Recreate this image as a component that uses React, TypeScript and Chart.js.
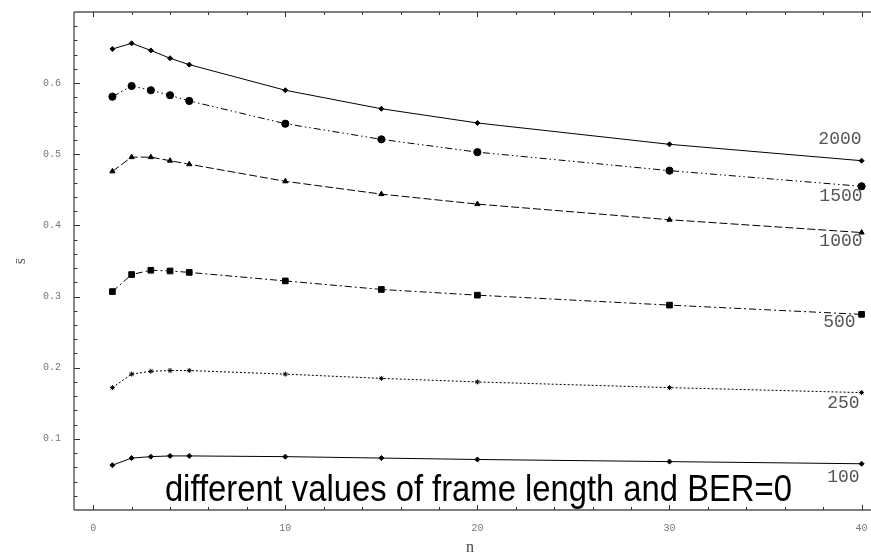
import React, { useEffect, useRef } from 'react';
import { Chart, registerables } from 'chart.js';

Chart.register(...registerables);

// ---- data ----
const nValues = [1, 2, 3, 4, 5, 10, 15, 20, 30, 40];
const frameLengths = ['2000', '1500', '1000', '500', '250', '100'];
const s2000 = [0.648, 0.656, 0.646, 0.635, 0.626, 0.590, 0.564, 0.544, 0.514, 0.491];
const s1500 = [0.581, 0.596, 0.590, 0.583, 0.575, 0.543, 0.521, 0.503, 0.477, 0.455];
const s1000 = [0.476, 0.496, 0.496, 0.491, 0.486, 0.462, 0.444, 0.430, 0.408, 0.390];
const s500 = [0.307, 0.331, 0.337, 0.336, 0.334, 0.322, 0.310, 0.302, 0.288, 0.275];
const s250 = [0.172, 0.191, 0.195, 0.196, 0.196, 0.191, 0.185, 0.180, 0.172, 0.165];
const s100 = [0.063, 0.073, 0.075, 0.076, 0.076, 0.075, 0.073, 0.071, 0.068, 0.065];
const seriesValues = [s2000, s1500, s1000, s500, s250, s100];
const xTickValues = [0, 10, 20, 30, 40];
const yTickValues = [0.1, 0.2, 0.3, 0.4, 0.5, 0.6];
const xLabel = 'n';
const yLabel = 's\u0304';
const noteText = 'different values of frame length and BER=0';

// ---- styles ----
const seriesStyles = [
  { dash: [], point: 'rectRot', r: 2.5, dx: 0, dy: -21 },
  { dash: [7, 3, 1.5, 3, 1.5, 3], point: 'circle', r: 3.6, dx: 1, dy: 10 },
  { dash: [8, 3], point: 'triangle', r: 3, dx: 1, dy: 9 },
  { dash: [7, 3, 2, 3], point: 'rect', r: 4, dx: -6, dy: 8 },
  { dash: [2, 2], point: 'star', r: 2.5, dx: -2, dy: 11 },
  { dash: [], point: 'rectRot', r: 2.5, dx: -2, dy: 13 },
];

const framePlugin = {
  id: 'frameTicks',
  afterDraw(chart: any) {
    const { ctx, chartArea, scales } = chart;
    const xs = scales.x;
    const ys = scales.y;
    const { left, top, bottom } = chartArea;
    const right = chart.width;
    ctx.save();
    ctx.strokeStyle = '#555';
    ctx.lineWidth = 1.4;
    ctx.beginPath();
    ctx.moveTo(left, top);
    ctx.lineTo(left, bottom);
    ctx.moveTo(left, top);
    ctx.lineTo(right, top);
    ctx.moveTo(left, bottom);
    ctx.lineTo(right, bottom);
    ctx.stroke();
    ctx.lineWidth = 1;
    ctx.strokeStyle = '#333';
    ctx.beginPath();
    for (let v = 0; v <= 40; v += 2) {
      const px = Math.round(xs.getPixelForValue(v)) + 0.5;
      const len = v % 10 === 0 ? 5 : 3;
      ctx.moveTo(px, bottom);
      ctx.lineTo(px, bottom - len);
      ctx.moveTo(px, top);
      ctx.lineTo(px, top + len);
    }
    for (let i = 1; i <= 34; i++) {
      const v = i * 0.02;
      const py = Math.round(ys.getPixelForValue(v)) + 0.5;
      const len = i % 5 === 0 ? 6 : 3.5;
      ctx.moveTo(left, py);
      ctx.lineTo(left + len, py);
    }
    ctx.stroke();
    ctx.restore();
  },
  afterDatasetsDraw(chart: any) {
    const { ctx, chartArea, scales } = chart;
    ctx.save();
    // series labels
    ctx.font = '18px "Liberation Mono", monospace';
    ctx.fillStyle = '#555';
    ctx.textAlign = 'right';
    ctx.textBaseline = 'middle';
    chart.data.datasets.forEach((ds: any, i: number) => {
      const meta = chart.getDatasetMeta(i);
      const pt = meta.data[meta.data.length - 1];
      const st = seriesStyles[i];
      ctx.fillText(ds.label, pt.x + st.dx, pt.y + st.dy);
    });
    // note text
    ctx.font = '36px "Liberation Sans", Arial, sans-serif';
    ctx.fillStyle = '#000';
    ctx.textAlign = 'left';
    ctx.textBaseline = 'alphabetic';
    const w = ctx.measureText(noteText).width;
    const targetW = 627;
    const cx = scales.x.getPixelForValue(20) + 1;
    ctx.translate(cx - targetW / 2, chartArea.bottom - 9.5);
    ctx.scale(targetW / w, 1);
    ctx.fillText(noteText, 0, 0);
    ctx.restore();
  },
};

export default function App() {
  const canvasRef = useRef<HTMLCanvasElement | null>(null);

  useEffect(() => {
    document.body.style.margin = '0';
    const canvas = canvasRef.current;
    if (!canvas) return;
    const chart = new Chart(canvas, {
      type: 'line',
      data: {
        datasets: seriesValues.map((vals, i) => ({
          label: frameLengths[i],
          data: nValues.map((n, j) => ({ x: n, y: vals[j] })),
          borderColor: '#000',
          backgroundColor: '#000',
          borderWidth: 1,
          borderDash: seriesStyles[i].dash,
          pointStyle: seriesStyles[i].point as any,
          pointRadius: seriesStyles[i].r,
          pointBorderWidth: 1,
          pointBackgroundColor: '#000',
          pointBorderColor: '#000',
          tension: 0,
          fill: false,
        })),
      },
      options: {
        responsive: false,
        animation: false,
        devicePixelRatio: 1,
        layout: { padding: { top: 12, right: 0, left: 0, bottom: 0 } },
        plugins: {
          legend: { display: false },
          tooltip: { enabled: false },
        },
        scales: {
          x: {
            type: 'linear',
            min: -1,
            max: 40.23,
            position: 'bottom',
            afterFit: (s: any) => { s.height = 46; s.paddingLeft = 0; s.paddingRight = 0; },
            afterBuildTicks: (s: any) => { s.ticks = xTickValues.map((v) => ({ value: v })); },
            grid: { display: false, drawTicks: true, tickLength: 12 },
            border: { display: false },
            ticks: {
              padding: 0,
              autoSkip: false,
              maxRotation: 0,
              color: '#777',
              font: { family: '"Liberation Mono", monospace', size: 10 },
              callback: (v: any) => String(v),
            },
            title: {
              display: true,
              text: xLabel,
              color: '#444',
              font: { family: '"Liberation Serif", serif', size: 16, lineHeight: 1 },
              padding: { top: 0, bottom: 0 },
            },
          },
          y: {
            type: 'linear',
            min: 0,
            max: 0.7,
            afterFit: (s: any) => { s.width = 74; s.paddingTop = 0; s.paddingBottom = 0; },
            afterBuildTicks: (s: any) => { s.ticks = yTickValues.map((v) => ({ value: v })); },
            grid: { display: false, drawTicks: true, tickLength: 13 },
            border: { display: false },
            ticks: {
              padding: 0,
              autoSkip: false,
              color: '#777',
              font: { family: '"Liberation Mono", monospace', size: 10 },
              callback: (v: any) => Number(v).toFixed(1),
            },
            title: {
              display: true,
              text: yLabel,
              color: '#555',
              font: { family: '"Liberation Serif", serif', size: 15, lineHeight: 1 },
              padding: { top: 14, bottom: 0 },
            },
          },
        },
      },
      plugins: [framePlugin],
    });
    return () => chart.destroy();
  }, []);

  return (
    <div style={{ width: 871, height: 556 }}>
      <canvas ref={canvasRef} width={871} height={556} style={{ display: 'block' }} />
    </div>
  );
}
